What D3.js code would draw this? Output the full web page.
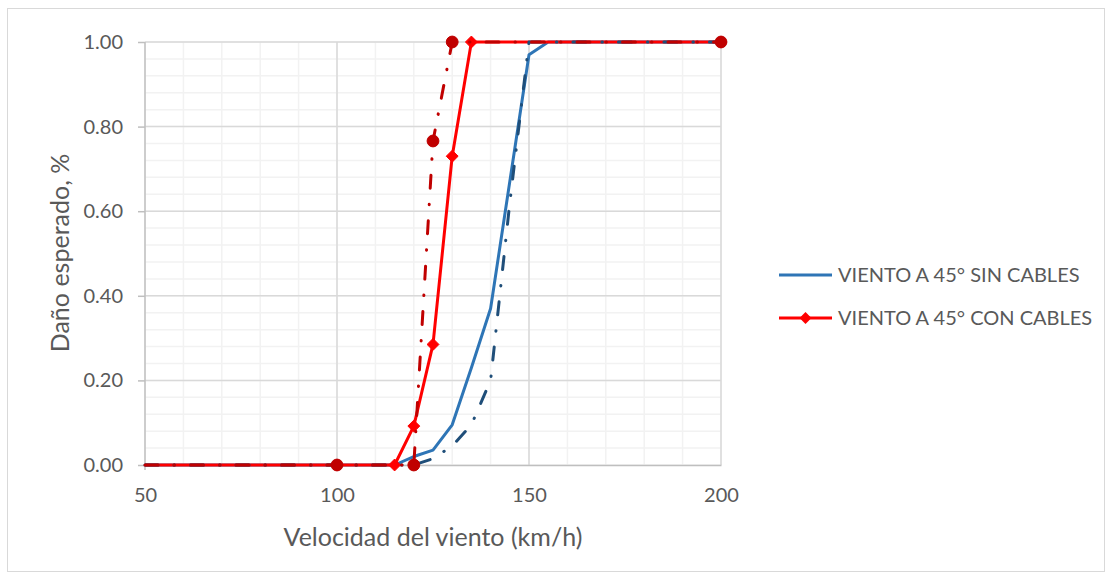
<!DOCTYPE html>
<html><head><meta charset="utf-8">
<script src="https://cdn.jsdelivr.net/npm/d3@7"></script>
<style>body{margin:0;background:#fff;} text{font-family:Lato,"Open Sans",sans-serif;fill:#595959;}</style>
</head><body>
<svg id="c" width="1112" height="579"></svg>
<script>
// Data
const xTicks = [50, 100, 150, 200];
const yTicks = [0, 0.2, 0.4, 0.6, 0.8, 1.0];
const sinX = [50, 100, 115, 120, 125, 130, 135, 140, 145, 150, 155, 200];
const sinY = [0, 0, 0, 0.02, 0.035, 0.095, 0.23, 0.37, 0.67, 0.97, 1, 1];
const sin2X = [50, 100, 115, 120, 125, 130, 135, 140, 145, 150, 155, 200];
const sin2Y = [0, 0, 0, 0, 0.015, 0.045, 0.095, 0.2, 0.62, 1, 1, 1];
const conX = [50, 100, 115, 120, 125, 130, 135, 200];
const conY = [0, 0, 0, 0.092, 0.285, 0.73, 1, 1];
const con2X = [50, 100, 120, 125, 130, 200];
const con2Y = [0, 0, 0, 0.766, 1, 1];
const legendLabels = ["VIENTO A 45° SIN CABLES", "VIENTO A 45° CON CABLES"];

const svg = d3.select("#c");
svg.append("rect").attr("x",7.5).attr("y",8.5).attr("width",1097).attr("height",563)
  .attr("fill","#fff").attr("stroke","#d9d9d9").attr("stroke-width",1);

const x = d3.scaleLinear().domain([50,200]).range([145,721]);
const y = d3.scaleLinear().domain([0,1]).range([465,42]);

const g = svg.append("g");
// minor grid
g.append("g").selectAll("line").data(d3.range(50,201,10)).join("line")
  .attr("x1",d=>x(d)).attr("x2",d=>x(d)).attr("y1",y(0)).attr("y2",y(1))
  .attr("stroke","#f2f2f2").attr("stroke-width",1.5);
g.append("g").selectAll("line").data(d3.range(0,1.001,0.04)).join("line")
  .attr("y1",d=>y(d)).attr("y2",d=>y(d)).attr("x1",x(50)).attr("x2",x(200))
  .attr("stroke","#f2f2f2").attr("stroke-width",1.5);
// major grid
g.append("g").selectAll("line").data(xTicks.slice(1)).join("line")
  .attr("x1",d=>x(d)).attr("x2",d=>x(d)).attr("y1",y(0)).attr("y2",y(1))
  .attr("stroke","#d9d9d9").attr("stroke-width",1.5);
g.append("g").selectAll("line").data(yTicks.slice(1)).join("line")
  .attr("y1",d=>y(d)).attr("y2",d=>y(d)).attr("x1",x(50)).attr("x2",x(200))
  .attr("stroke","#d9d9d9").attr("stroke-width",1.5);

// axes
const yAxis = svg.append("g").attr("transform",`translate(${x(50)},0)`)
  .call(d3.axisLeft(y).tickValues(yTicks).tickFormat(d3.format(".2f")).tickSize(7).tickPadding(15));
yAxis.select(".domain").attr("stroke","#bfbfbf").attr("stroke-width",1.5).attr("d",`M0,${y(1)}V${y(0)+5}`);
yAxis.selectAll(".tick line").attr("stroke","#bfbfbf").attr("stroke-width",1.5);
yAxis.selectAll("text").style("font-size","20px").attr("fill","#595959");

const xAxis = svg.append("g").attr("transform",`translate(0,${y(0)})`)
  .call(d3.axisBottom(x).tickValues(xTicks).tickSize(0).tickPadding(23));
xAxis.select(".domain").attr("stroke","#bfbfbf").attr("stroke-width",1.5);
xAxis.selectAll("text").style("font-size","20px").attr("fill","#595959");

svg.append("text").attr("x",433).attr("y",546).attr("text-anchor","middle")
  .style("font-size","25px").text("Velocidad del viento (km/h)");
svg.append("text").attr("transform","translate(69,253) rotate(-90)").attr("text-anchor","middle")
  .style("font-size","25px").text("Daño esperado, %");

const line = d3.line().x(d=>x(d[0])).y(d=>y(d[1]));
const zip = (a,b)=>a.map((v,i)=>[v,b[i]]);
const dashDot = "13,16,0.5,16";

const series = [
  {data: zip(sinX,sinY), color:"#2E75B6", dash:null, marker:null},
  {data: zip(conX,conY), color:"#FF0000", dash:null, marker:"diamond"},
  {data: zip(sin2X,sin2Y), color:"#1F4E79", dash:dashDot, marker:null},
  {data: zip(con2X,con2Y), color:"#C00000", dash:dashDot, marker:"circle"}
];
series.forEach(s=>{
  svg.append("path").datum(s.data).attr("d",line).attr("fill","none")
    .attr("stroke",s.color).attr("stroke-width",3)
    .attr("stroke-linecap", s.dash ? "round" : "butt").attr("stroke-linejoin","round")
    .attr("stroke-dasharray", s.dash);
  if (s.marker) {
    const sym = d3.symbol().type(s.marker==="diamond"?d3.symbolDiamond2:d3.symbolCircle)
      .size(s.marker==="diamond"?90:110);
    svg.append("g").selectAll("path").data(s.data.slice(1)).join("path")
      .attr("d",sym).attr("transform",d=>`translate(${x(d[0])},${y(d[1])})`)
      .attr("fill",s.color).attr("stroke",s.color).attr("stroke-width",1);
  }
});

// legend
const leg = svg.append("g");
const legY = [275, 318];
const legColors = ["#2E75B6","#FF0000"];
legendLabels.forEach((t,i)=>{
  leg.append("line").attr("x1",779).attr("x2",832).attr("y1",legY[i]).attr("y2",legY[i])
    .attr("stroke",legColors[i]).attr("stroke-width",3);
  if (i===1) leg.append("path").attr("d",d3.symbol().type(d3.symbolDiamond2).size(90))
    .attr("transform",`translate(805.5,${legY[i]})`).attr("fill",legColors[i]);
  leg.append("text").attr("x",838).attr("y",legY[i]).attr("dy","0.35em")
    .style("font-size","20px").text(t);
});
</script>
</body></html>
